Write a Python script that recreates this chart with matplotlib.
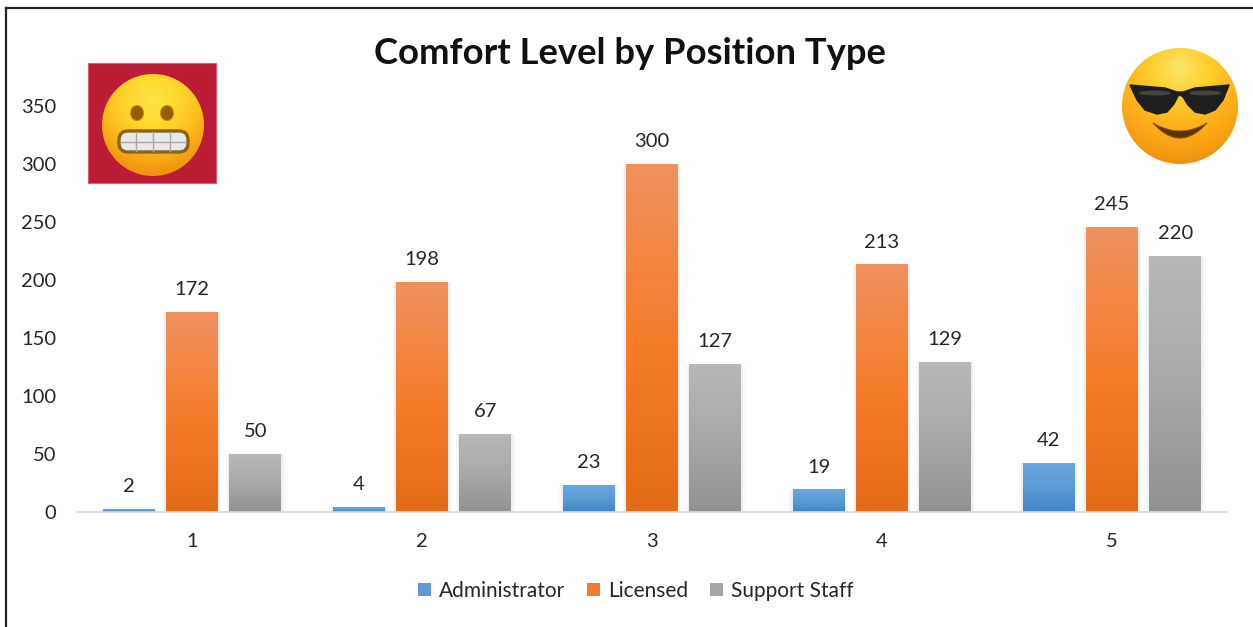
import matplotlib
matplotlib.use('Agg')
import matplotlib.pyplot as plt
import numpy as np
from matplotlib.colors import LinearSegmentedColormap
from matplotlib.patches import Circle, Ellipse, FancyBboxPatch, Patch, Polygon, Rectangle

plt.rcParams['font.family'] = ['Lato', 'DejaVu Sans']

categories = ['1', '2', '3', '4', '5']
administrator = [2, 4, 23, 19, 42]
licensed = [172, 198, 300, 213, 245]
support_staff = [50, 67, 127, 129, 220]
y_ticks = [0, 50, 100, 150, 200, 250, 300, 350]

W, H = 1253, 627
TEXT = '#262626'


def gradient_bars(ax, bars, colors):
    cmap = LinearSegmentedColormap.from_list('bar', colors)
    grad = np.linspace(0, 1, 256).reshape(-1, 1)
    for b in bars:
        # soft shadow round the bar
        for grow, a in ((0.016, 0.05), (0.008, 0.08)):
            ax.add_patch(Rectangle((b.get_x() - grow, 0), b.get_width() + 2 * grow, b.get_height(),
                                   fc='#808080', ec='none', alpha=a, zorder=1))
        x0, x1 = b.get_x(), b.get_x() + b.get_width()
        ax.imshow(grad, extent=(x0, x1, 0, b.get_height()), cmap=cmap, aspect='auto',
                  origin='upper', zorder=2)


def radial_disc(ax, cx, cy, r, fx, fy, colors):
    # disc shaded outward from the point (fx, fy)
    yy, xx = np.mgrid[cy - r:cy + r:200j, cx - r:cx + r:200j]
    d = np.hypot(xx - fx, yy - fy)
    cmap = LinearSegmentedColormap.from_list('disc', colors)
    im = ax.imshow(d / d.max(), extent=(cx - r, cx + r, cy + r, cy - r), cmap=cmap, vmin=0, vmax=1,
                   origin='upper', aspect='auto', zorder=3)
    im.set_clip_path(Circle((cx, cy), r, transform=ax.transData))


def grimace(ax):
    ax.add_patch(Rectangle((88, 63), 128, 120, fc='#BA1D35', ec='#D8606F', lw=0.8, zorder=2))
    radial_disc(ax, 153, 125, 51, 153, 100, ['#FFE647', '#FFD92F', '#FDC01E', '#F29A10', '#E68A0C'])
    for ex in (137, 167):
        ax.add_patch(Ellipse((ex, 113), 13, 15, fc='#9A5A06', ec='#C98A10', lw=0.8, zorder=4))
    ax.add_patch(FancyBboxPatch((119, 131), 69, 21, boxstyle='round,pad=0,rounding_size=9',
                                fc='#E8E8E8', ec='#8A6410', lw=2.4, mutation_scale=1, zorder=4))
    ax.plot([121, 186], [141.5, 141.5], color='#A8A8A8', lw=1, zorder=5)
    for tx in (136, 153, 170):
        ax.plot([tx, tx], [132, 151], color='#A8A8A8', lw=1, zorder=5)


def cool(ax):
    radial_disc(ax, 1180, 106, 58, 1180, 68, ['#FFE66A', '#FFCF2E', '#FDB41C', '#F79D12', '#E57E0E'])
    glasses = [(1130, 85), (1165, 88), (1177, 92), (1183, 92), (1195, 88), (1229, 85), (1223, 100), (1215, 110),
               (1205, 114), (1195, 112), (1188, 105), (1183, 97), (1180, 95), (1178, 96), (1174, 104), (1167, 112),
               (1157, 114), (1145, 110), (1137, 100)]
    ax.add_patch(Polygon(glasses, closed=True, fc='#1E1E1E', ec='#1E1E1E', lw=1, zorder=4))
    for sx in (1155, 1205):
        ax.add_patch(Ellipse((sx, 93), 32, 5, fc='#555555', ec='none', alpha=0.7, zorder=5))
    t = np.linspace(-27, 27, 40)
    bow = 1 - (t / 27) ** 2
    smile = np.r_[np.c_[1180 + t, 123 + 8 * bow], np.c_[1180 + t[::-1], 123 + 15 * bow[::-1]]]
    ax.add_patch(Polygon(smile, closed=True, fc='#5E3206', ec='#8A5208', lw=0.8, zorder=4))


fig = plt.figure(figsize=(W / 100, H / 100), dpi=100)
ax = fig.add_axes([77 / W, 1 - 512 / H, 1150 / W, 435 / H])
ax.patch.set_alpha(0)

x = np.arange(1, len(categories) + 1)
series = [
    (administrator, 'Administrator', -0.275, ['#6DA7E0', '#5B9BD5', '#3F85C8'], '#5B9BD5'),
    (licensed, 'Licensed', 0, ['#EF9160', '#F57D2C', '#E36A16'], '#ED7D31'),
    (support_staff, 'Support Staff', 0.275, ['#B8B8B8', '#A8A8A8', '#929292'], '#A5A5A5'),
]
handles = []
for values, name, off, colors, solid in series:
    bars = ax.bar(x + off, values, width=0.224, color='none', zorder=2)
    gradient_bars(ax, bars, colors)
    for xi, v in zip(x + off, values):
        ax.annotate(str(v), (xi, v), xytext=(0, 16.5), textcoords='offset points', ha='center', va='center',
                    fontsize=14.5, color=TEXT, zorder=6)
    handles.append(Patch(fc=solid, ec='none', label=name))

ax.set_xlim(0.5, 5.5)
ax.set_ylim(0, 375)
ax.set_xticks(x, categories)
ax.set_yticks(y_ticks)
ax.tick_params(length=0, labelsize=14.5, labelcolor=TEXT)
ax.tick_params(axis='x', pad=15)
ax.tick_params(axis='y', pad=15)
for s in ('top', 'right', 'left'):
    ax.spines[s].set_visible(False)
ax.spines['bottom'].set_color('#D9D9D9')
ax.spines['bottom'].set_linewidth(1.2)

fig.legend(handles=handles, loc='center', bbox_to_anchor=(636 / W, 1 - 591 / H), ncols=3, frameon=False,
           fontsize=15, handlelength=0.6, handleheight=0.6, handletextpad=0.4, columnspacing=1.05,
           labelcolor=TEXT)
fig.text(630 / W, 1 - 53 / H, 'Comfort Level by Position Type', ha='center', va='center',
         fontsize=26.2, fontweight='bold', color='#111111')

# pixel-space layer for the frame and the two pasted emoji
over = fig.add_axes([0, 0, 1, 1])
over.patch.set_alpha(0)
over.axis('off')
grimace(over)
cool(over)
over.plot([6, 6], [H, 8], color='#222222', lw=1.6, zorder=6)
over.plot([6, W], [8, 8], color='#222222', lw=1.6, zorder=6)
over.set_xlim(0, W)
over.set_ylim(H, 0)

fig.savefig('out.png', dpi=100)
